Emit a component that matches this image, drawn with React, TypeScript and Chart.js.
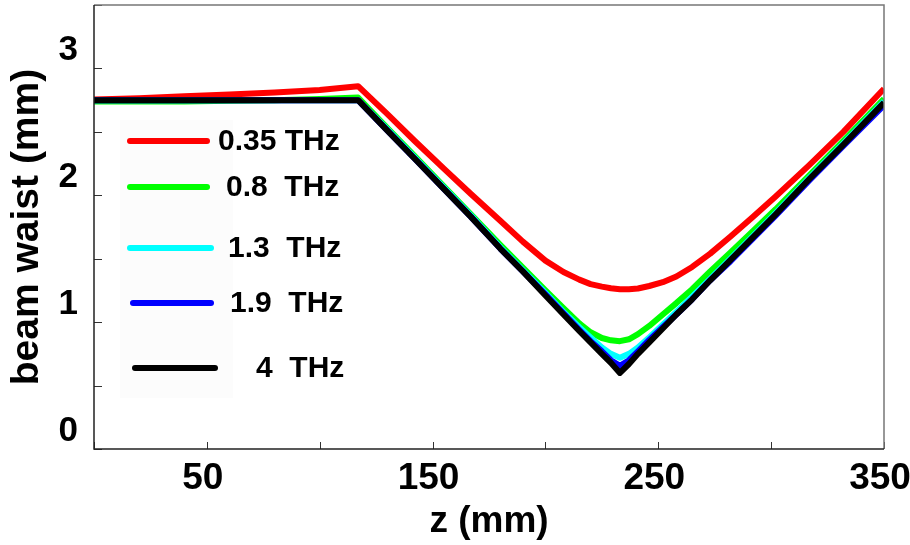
import React, { useEffect, useRef } from 'react';
import { Chart, registerables } from 'chart.js';

Chart.register(...registerables);

// ---- data ----
const zValues = [0, 20, 40, 60, 80, 100, 117, 130, 142, 155, 167, 180, 190, 200, 208, 215, 220, 225, 229, 233, 237, 241, 246, 252, 258, 265, 273, 282, 292, 302, 317, 332, 350];

const waist035 = [2.755, 2.765, 2.78, 2.795, 2.81, 2.83, 2.86, 2.64, 2.43, 2.21, 2.01, 1.80, 1.635, 1.485, 1.395, 1.335, 1.30, 1.28, 1.267, 1.26, 1.26, 1.265, 1.285, 1.315, 1.36, 1.435, 1.54, 1.675, 1.83, 1.99, 2.24, 2.50, 2.84];
const waist08 = [2.74, 2.74, 2.74, 2.745, 2.75, 2.76, 2.77, 2.53, 2.31, 2.07, 1.85, 1.61, 1.43, 1.25, 1.11, 0.99, 0.92, 0.875, 0.857, 0.85, 0.865, 0.905, 0.97, 1.06, 1.15, 1.26, 1.40, 1.55, 1.72, 1.89, 2.16, 2.43, 2.76];
const waist13 = [2.75, 2.75, 2.75, 2.75, 2.75, 2.75, 2.75, 2.52, 2.30, 2.06, 1.84, 1.59, 1.41, 1.23, 1.08, 0.96, 0.88, 0.80, 0.75, 0.72, 0.75, 0.80, 0.88, 0.98, 1.08, 1.20, 1.34, 1.50, 1.68, 1.86, 2.14, 2.41, 2.74];
const waist19 = [2.75, 2.75, 2.75, 2.75, 2.75, 2.75, 2.75, 2.51, 2.29, 2.05, 1.83, 1.58, 1.40, 1.22, 1.07, 0.94, 0.85, 0.77, 0.70, 0.655, 0.70, 0.77, 0.86, 0.96, 1.06, 1.18, 1.33, 1.48, 1.66, 1.84, 2.12, 2.39, 2.71];
const waist4 = [2.75, 2.75, 2.75, 2.75, 2.75, 2.75, 2.75, 2.51, 2.29, 2.05, 1.83, 1.58, 1.40, 1.21, 1.06, 0.93, 0.84, 0.75, 0.68, 0.60, 0.67, 0.75, 0.84, 0.95, 1.06, 1.18, 1.33, 1.49, 1.67, 1.85, 2.13, 2.40, 2.73];

const seriesLabels = ['0.35 THz', '0.8  THz', '1.3  THz', '1.9  THz', '4  THz'];
const seriesColors = ['#ff0000', '#00ff00', '#00ffff', '#0000ff', '#000000'];
const seriesValues = [waist035, waist08, waist13, waist19, waist4];

const xTickLabels = [50, 150, 250, 350];
const yTickLabels = [0, 1, 2, 3];

const FONT = '"Liberation Sans", Arial, Helvetica, sans-serif';

// legend layout (pixel positions, layout only)
const legendRows = [
  { x1: 130, x2: 207, y: 141, tx: 218 },
  { x1: 130, x2: 207, y: 187, tx: 226 },
  { x1: 130, x2: 211, y: 248, tx: 228 },
  { x1: 133, x2: 211, y: 303, tx: 230 },
  { x1: 135, x2: 215, y: 368, tx: 256 },
];

const framePlugin = {
  id: 'frameTicks',
  afterDatasetsDraw(chart: any) {
    const { ctx, chartArea: a, scales } = chart;
    ctx.save();
    ctx.strokeStyle = '#333';
    ctx.lineWidth = 1;
    ctx.beginPath();
    for (const t of scales.x.ticks) {
      const px = Math.round(scales.x.getPixelForValue(t.value)) + 0.5;
      ctx.moveTo(px, a.bottom);
      ctx.lineTo(px, a.bottom - 7);
    }
    for (const t of scales.y.ticks) {
      const py = Math.round(scales.y.getPixelForValue(t.value)) + 0.5;
      ctx.moveTo(a.left, py);
      ctx.lineTo(a.left + 8, py);
    }
    ctx.stroke();
    ctx.lineWidth = 1.5;
    ctx.strokeStyle = '#777';
    ctx.beginPath();
    ctx.moveTo(a.left, a.top);
    ctx.lineTo(a.right, a.top);
    ctx.lineTo(a.right, a.bottom);
    ctx.stroke();
    ctx.strokeStyle = '#222';
    ctx.beginPath();
    ctx.moveTo(a.left, a.top);
    ctx.lineTo(a.left, a.bottom);
    ctx.lineTo(a.right, a.bottom);
    ctx.stroke();
    ctx.restore();
  },
};

const legendPlugin = {
  id: 'customLegend',
  beforeDatasetsDraw(chart: any) {
    const { ctx } = chart;
    ctx.save();
    ctx.fillStyle = '#fcfcfc';
    ctx.fillRect(120, 120, 113, 278);
    ctx.restore();
  },
  afterDatasetsDraw(chart: any) {
    const { ctx } = chart;
    ctx.save();
    ctx.lineCap = 'round';
    ctx.lineWidth = 6;
    ctx.font = `bold 30px ${FONT}`;
    ctx.textBaseline = 'middle';
    ctx.textAlign = 'left';
    chart.data.datasets.forEach((ds: any, i: number) => {
      const r = legendRows[i];
      ctx.strokeStyle = ds.borderColor;
      ctx.beginPath();
      ctx.moveTo(r.x1, r.y);
      ctx.lineTo(r.x2, r.y);
      ctx.stroke();
      ctx.fillStyle = '#000';
      ctx.fillText(ds.label, r.tx, r.y + 1);
    });
    ctx.restore();
  },
};

export default function App() {
  const ref = useRef<HTMLCanvasElement>(null);
  useEffect(() => {
    if (!ref.current) return;
    const datasets = seriesValues.map((vals, i) => ({
      label: seriesLabels[i],
      data: zValues.map((z, j) => ({ x: z, y: vals[j] })),
      borderColor: seriesColors[i],
      backgroundColor: seriesColors[i],
      borderWidth: 6,
      pointRadius: 0,
      tension: 0,
      borderJoinStyle: 'round',
      fill: false,
      order: seriesValues.length - i,
    }));
    const chart = new Chart(ref.current, {
      type: 'line',
      data: { datasets },
      plugins: [legendPlugin, framePlugin],
      options: {
        responsive: false,
        animation: false,
        layout: { padding: { top: 5, right: 26, left: 0, bottom: 0 } },
        plugins: { legend: { display: false }, tooltip: { enabled: false } },
        scales: {
          x: {
            type: 'linear',
            min: 0,
            max: 350,
            grid: { display: false, drawTicks: false },
            border: { display: false },
            ticks: {
              stepSize: 50,
              autoSkip: false,
              maxRotation: 0,
              padding: 8,
              labelOffset: -4,
              color: '#000',
              font: { family: FONT, size: 37, weight: 'bold' },
              callback: (v: any) => (xTickLabels.includes(Number(v)) ? String(v) : ''),
            },
            title: {
              display: true,
              text: 'z (mm)',
              color: '#000',
              font: { family: FONT, size: 37, weight: 'bold' },
              padding: { top: 0, bottom: 1 },
            },
            afterFit: (s: any) => {
              s.height = 96;
              s.paddingLeft = 0;
              s.paddingRight = 0;
            },
          },
          y: {
            type: 'linear',
            min: 0,
            max: 3.5,
            grid: { display: false, drawTicks: false },
            border: { display: false },
            ticks: {
              stepSize: 0.5,
              autoSkip: false,
              padding: 16,
              labelOffset: -18,
              color: '#000',
              font: { family: FONT, size: 35, weight: 'bold' },
              callback: (v: any) => (yTickLabels.includes(Number(v)) ? String(v) : ''),
            },
            title: {
              display: true,
              text: 'beam waist (mm)',
              color: '#000',
              font: { family: FONT, size: 39, weight: 'bold' },
              padding: { top: 4, bottom: 0 },
            },
            afterFit: (s: any) => {
              s.width = 94;
              s.paddingTop = 0;
              s.paddingBottom = 0;
            },
          },
        },
      } as any,
    });
    return () => chart.destroy();
  }, []);
  return (
    <div style={{ position: 'absolute', left: 0, top: 0, width: 910, height: 545, background: '#fff' }}>
      <canvas ref={ref} width={910} height={545} style={{ display: 'block' }} />
    </div>
  );
}
